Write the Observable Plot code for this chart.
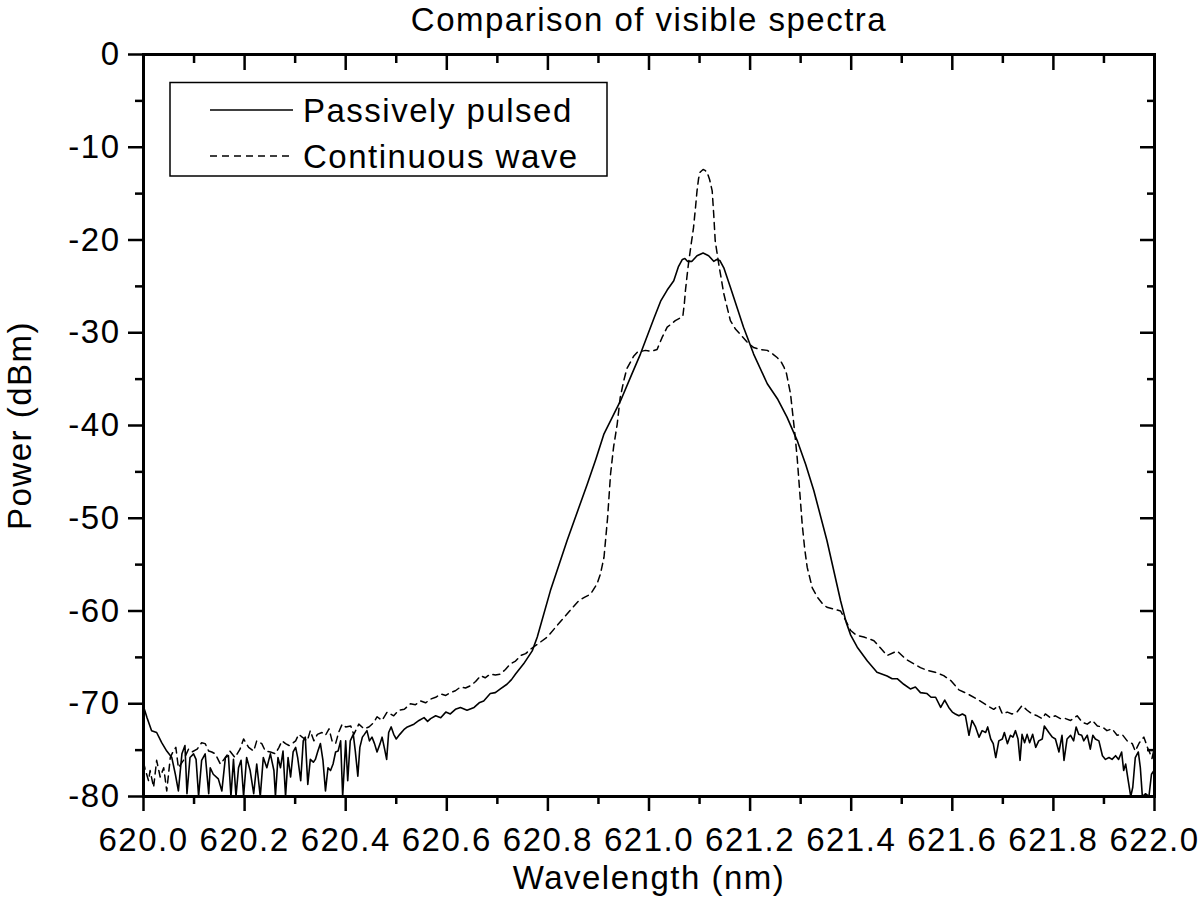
<!DOCTYPE html>
<html><head><meta charset="utf-8">
<script src="https://cdn.jsdelivr.net/npm/d3@7"></script>
<script src="https://cdn.jsdelivr.net/npm/@observablehq/plot@0.6"></script>
<style>
html,body{margin:0;padding:0;background:#fff;overflow:hidden}
#wrap{position:relative;width:1200px;height:921px}
#wrap svg{position:absolute;left:0;top:0}
</style></head><body><div id="wrap"></div>
<script>
// ---------- data ----------
const titleText = "Comparison of visible spectra";
const xLabelText = "Wavelength (nm)";
const yLabelText = "Power (dBm)";
const seriesNames = ["Passively pulsed", "Continuous wave"];

const xMajor = [620.0, 620.2, 620.4, 620.6, 620.8, 621.0, 621.2, 621.4, 621.6, 621.8, 622.0];
const xMinor = [620.1, 620.3, 620.5, 620.7, 620.9, 621.1, 621.3, 621.5, 621.7, 621.9];
const yMajor = [0, -10, -20, -30, -40, -50, -60, -70, -80];
const yMinor = [-5, -15, -25, -35, -45, -55, -65, -75];

const pulsedX = [
620.000,620.007,620.016,620.026,620.036,620.046,620.056,620.063,620.069,620.076,620.082,620.086,620.092,620.099,620.104,620.109,620.115,620.122,620.129,620.132,
620.138,620.148,620.155,620.162,620.168,620.173,620.178,620.183,620.188,620.193,620.198,620.204,620.211,620.218,620.224,620.231,620.237,620.244,620.251,620.258,
620.261,620.266,620.271,620.276,620.281,620.286,620.291,620.296,620.301,620.305,620.311,620.316,620.320,620.325,620.330,620.336,620.340,620.345,620.350,620.355,
620.360,620.365,620.370,620.375,620.380,620.385,620.390,620.394,620.400,620.404,620.409,620.415,620.419,620.424,620.428,620.433,620.437,620.442,620.447,620.452,
620.457,620.462,620.468,620.472,620.477,620.481,620.485,620.490,620.495,620.500,620.507,620.515,620.522,620.535,620.545,620.555,620.562,620.568,620.578,620.588,
620.598,620.607,620.617,620.627,620.640,620.654,620.664,620.673,620.686,620.696,620.706,620.719,620.728,620.736,620.752,620.769,620.779,620.805,620.838,620.878,
620.895,620.911,620.944,620.965,620.983,621.010,621.023,621.036,621.049,621.058,621.066,621.071,621.076,621.085,621.095,621.107,621.118,621.128,621.134,621.140,
621.148,621.161,621.187,621.207,621.234,621.255,621.273,621.293,621.310,621.326,621.352,621.379,621.390,621.399,621.412,621.432,621.451,621.471,621.481,621.491,
621.504,621.517,621.527,621.537,621.550,621.558,621.567,621.577,621.585,621.593,621.600,621.606,621.613,621.620,621.626,621.633,621.639,621.646,621.653,621.659,
621.666,621.670,621.676,621.681,621.686,621.692,621.699,621.703,621.709,621.715,621.720,621.725,621.730,621.734,621.738,621.743,621.748,621.753,621.759,621.765,
621.771,621.778,621.782,621.791,621.798,621.804,621.811,621.817,621.821,621.827,621.834,621.840,621.845,621.850,621.856,621.860,621.867,621.873,621.878,621.883,
621.890,621.897,621.903,621.910,621.916,621.923,621.929,621.935,621.939,621.943,621.948,621.953,621.957,621.962,621.968,621.972,621.976,621.982,621.989,621.994,
621.999
];
const pulsedY = [
-70.3,-71.5,-72.9,-73.1,-74.2,-75.1,-75.8,-77.6,-79.4,-75.4,-74.5,-79.7,-75.8,-75.4,-76.0,-80.0,-76.1,-75.4,-79.7,-76.9,
-77.6,-78.1,-79.4,-75.8,-75.6,-80.0,-76.0,-80.0,-76.9,-76.1,-80.0,-75.8,-77.2,-79.7,-76.5,-80.0,-75.8,-76.9,-75.4,-77.2,
-80.0,-75.8,-76.9,-75.1,-80.0,-75.8,-77.9,-75.2,-74.7,-75.8,-78.3,-74.0,-73.6,-78.7,-76.0,-76.3,-76.0,-75.1,-74.3,-76.1,
-79.4,-76.9,-77.2,-76.5,-75.2,-75.1,-74.0,-80.0,-74.0,-78.3,-74.0,-73.3,-75.1,-77.8,-74.7,-73.6,-73.3,-72.9,-74.0,-73.6,
-74.3,-75.2,-74.3,-73.6,-74.9,-76.0,-73.1,-72.5,-73.3,-73.8,-73.3,-72.8,-72.5,-72.2,-71.8,-71.5,-71.9,-71.6,-71.3,-71.5,
-70.9,-71.1,-70.6,-70.4,-70.7,-70.4,-69.9,-69.7,-68.9,-68.8,-68.4,-67.9,-67.4,-66.8,-65.7,-64.3,-62.8,-57.8,-52.4,-46.3,
-43.6,-40.9,-37.3,-34.6,-32.3,-28.4,-26.6,-25.4,-24.4,-22.9,-22.1,-22.0,-22.3,-22.3,-21.7,-21.4,-21.7,-22.3,-22.1,-22.2,
-23.0,-25.1,-29.4,-32.3,-35.5,-37.2,-39.1,-41.6,-44.2,-47.0,-52.4,-58.9,-61.2,-62.6,-63.9,-65.4,-66.6,-67.0,-67.3,-67.3,
-67.9,-68.4,-68.2,-68.8,-68.9,-69.3,-69.3,-70.4,-69.6,-70.4,-70.9,-71.1,-71.3,-71.1,-71.3,-73.4,-71.8,-72.5,-73.6,-72.9,
-73.1,-72.5,-73.8,-74.3,-75.8,-74.0,-73.8,-73.1,-74.3,-73.4,-73.6,-72.9,-73.8,-76.1,-73.3,-74.2,-73.3,-74.2,-73.3,-74.7,
-74.0,-73.8,-72.4,-73.1,-73.6,-73.8,-75.2,-73.4,-76.1,-73.8,-73.4,-74.0,-72.5,-73.3,-73.4,-74.0,-73.4,-74.9,-73.4,-73.8,
-74.0,-75.6,-76.0,-75.8,-76.0,-75.6,-76.0,-75.2,-77.2,-76.5,-78.3,-80.0,-79.0,-75.8,-75.2,-76.9,-80.0,-79.7,-80.0,-77.6,
-77.2
];

const cwX = [
620.000,620.003,620.010,620.013,620.020,620.026,620.033,620.040,620.046,620.053,620.059,620.064,620.069,620.079,620.089,620.096,620.106,620.115,620.122,620.129,
620.135,620.142,620.152,620.162,620.171,620.181,620.191,620.198,620.208,620.218,620.224,620.234,620.241,620.251,620.261,620.268,620.274,620.281,620.288,620.294,
620.301,620.307,620.314,620.324,620.330,620.337,620.344,620.353,620.360,620.367,620.373,620.380,620.386,620.393,620.400,620.410,620.416,620.426,620.436,620.446,
620.456,620.462,620.472,620.482,620.495,620.505,620.516,620.528,620.538,620.548,620.558,620.568,620.578,620.588,620.598,620.607,620.617,620.627,620.637,620.647,
620.657,620.667,620.676,620.686,620.696,620.706,620.716,620.726,620.736,620.746,620.756,620.766,620.779,620.799,620.816,620.832,620.846,620.861,620.873,620.884,
620.897,620.904,620.911,620.918,620.924,620.930,620.937,620.943,620.950,620.956,620.963,620.970,620.977,620.993,621.005,621.016,621.026,621.036,621.052,621.062,
621.067,621.070,621.072,621.075,621.078,621.083,621.088,621.092,621.095,621.098,621.101,621.107,621.111,621.115,621.120,621.125,621.128,621.131,621.138,621.148,
621.161,621.171,621.181,621.194,621.207,621.220,621.234,621.245,621.254,621.261,621.267,621.272,621.276,621.280,621.283,621.288,621.293,621.298,621.303,621.308,
621.313,621.323,621.333,621.343,621.352,621.366,621.379,621.389,621.399,621.410,621.425,621.445,621.458,621.471,621.491,621.508,621.524,621.537,621.550,621.566,
621.583,621.597,621.613,621.629,621.649,621.669,621.682,621.692,621.699,621.709,621.718,621.728,621.738,621.748,621.758,621.768,621.778,621.784,621.794,621.804,
621.814,621.824,621.834,621.847,621.857,621.867,621.877,621.887,621.897,621.906,621.916,621.926,621.936,621.946,621.956,621.962,621.970,621.979,621.986,621.990,
621.995,622.000
];
const cwY = [
-76.3,-77.0,-78.3,-77.2,-79.0,-76.1,-77.9,-76.9,-79.4,-75.8,-75.1,-74.7,-76.9,-76.1,-74.9,-75.2,-74.9,-74.2,-74.3,-75.1,
-75.2,-75.4,-76.5,-75.8,-75.1,-75.8,-74.9,-73.8,-74.7,-75.1,-74.0,-74.3,-75.1,-75.2,-75.4,-74.7,-74.0,-74.3,-74.5,-74.3,
-74.0,-73.3,-73.6,-74.0,-72.9,-74.0,-73.3,-73.1,-73.4,-72.7,-74.0,-74.3,-73.1,-72.2,-72.5,-72.4,-73.3,-72.2,-72.7,-72.5,
-72.0,-71.4,-71.8,-70.9,-71.3,-70.7,-70.6,-70.0,-70.1,-69.7,-69.9,-69.5,-69.3,-68.95,-69.1,-68.8,-68.6,-68.2,-68.3,-68.05,
-67.6,-66.97,-67.2,-66.8,-66.9,-66.8,-66.3,-65.7,-65.4,-64.8,-64.6,-64.1,-63.6,-62.8,-61.7,-60.7,-59.8,-58.9,-58.5,-58.2,
-57.1,-56.0,-54.2,-50.0,-45.2,-42.3,-39.9,-37.0,-35.2,-33.9,-33.2,-32.5,-32.1,-31.9,-32.0,-31.8,-30.5,-29.4,-28.7,-28.4,
-28.2,-26.8,-25.5,-24.0,-22.6,-20.6,-18.7,-16.5,-14.7,-13.4,-12.7,-12.4,-12.5,-12.7,-13.5,-14.7,-17.2,-20.1,-22.6,-25.8,
-28.7,-29.6,-30.2,-31.0,-31.6,-31.8,-31.9,-32.3,-32.7,-33.1,-33.7,-34.4,-35.5,-36.6,-38.1,-40.6,-43.4,-47.0,-50.6,-53.3,
-55.3,-57.5,-58.5,-59.2,-59.6,-59.8,-60.0,-61.0,-62.1,-62.6,-62.8,-63.2,-64.0,-64.8,-64.3,-65.2,-65.7,-66.1,-66.4,-66.6,
-66.97,-67.5,-68.5,-68.9,-69.5,-70.2,-70.6,-70.2,-71.1,-70.9,-71.1,-70.9,-70.2,-70.7,-71.1,-71.3,-71.6,-71.1,-71.5,-71.3,
-71.6,-71.6,-71.8,-71.3,-72.0,-72.2,-71.8,-72.4,-72.5,-72.9,-72.7,-73.4,-73.3,-74.0,-74.3,-75.1,-74.2,-73.6,-74.7,-75.2,
-75.9,-74.7
];

// ---------- build ----------
const FONT = "'Liberation Sans', Arial, Helvetica, sans-serif";
const pulsed = pulsedX.map((x, i) => ({x, y: pulsedY[i]}));
const cw = cwX.map((x, i) => ({x, y: cwY[i]}));
const AX = {strokeWidth: 2.5, label: null};
const blank = () => "";

const chart = Plot.plot({
  width: 1200, height: 921,
  marginLeft: 143, marginRight: 46, marginTop: 54, marginBottom: 125,
  x: {domain: [620, 622], label: null},
  y: {domain: [-80, 0], label: null},
  style: {fontFamily: FONT, fontSize: "33px", letterSpacing: "1.5px", color: "black", background: "white", overflow: "visible"},
  marks: [
    Plot.line(cw, {x: "x", y: "y", stroke: "black", strokeWidth: 1.5, strokeDasharray: "7,5", clip: true}),
    Plot.line(pulsed, {x: "x", y: "y", stroke: "black", strokeWidth: 1.6, clip: true}),
    Plot.frame({stroke: "black", strokeWidth: 3}),
    Plot.axisX(xMajor, {...AX, anchor: "bottom", tickSize: 15, tickPadding: 16, tickFormat: d => d.toFixed(1)}),
    Plot.axisX(xMinor, {...AX, anchor: "bottom", tickSize: 8, tickFormat: blank}),
    Plot.axisX(xMajor, {...AX, anchor: "top", tickSize: 15, dy: 15, tickFormat: blank}),
    Plot.axisX(xMinor, {...AX, anchor: "top", tickSize: 8, dy: 8, tickFormat: blank}),
    Plot.axisY(yMajor, {...AX, anchor: "left", tickSize: 15, tickPadding: 8, tickFormat: d => String(d)}),
    Plot.axisY(yMinor, {...AX, anchor: "left", tickSize: 8, tickFormat: blank}),
    Plot.axisY(yMajor, {...AX, anchor: "right", tickSize: 15, dx: -15, tickFormat: blank}),
    Plot.axisY(yMinor, {...AX, anchor: "right", tickSize: 8, dx: -8, tickFormat: blank}),
    Plot.text([titleText], {frameAnchor: "top", lineAnchor: "middle", textAnchor: "middle", dy: -34, text: d => d}),
    Plot.text([xLabelText], {frameAnchor: "bottom", lineAnchor: "middle", textAnchor: "middle", dy: 82, text: d => d}),
    Plot.text([yLabelText], {frameAnchor: "left", lineAnchor: "middle", textAnchor: "middle", dx: -123, rotate: -90, text: d => d})
  ]
});
const wrap = document.getElementById("wrap");
wrap.appendChild(chart);

// ---------- legend (inside the plot area, top-left) ----------
const ns = "http://www.w3.org/2000/svg";
const lg = document.createElementNS(ns, "svg");
lg.setAttribute("width", 1200); lg.setAttribute("height", 921);
lg.style.fontFamily = FONT; lg.style.fontSize = "33px"; lg.style.letterSpacing = "1.5px";
function el(tag, attrs, txt) {
  const e = document.createElementNS(ns, tag);
  for (const k in attrs) e.setAttribute(k, attrs[k]);
  if (txt) e.textContent = txt;
  lg.appendChild(e);
  return e;
}
el("rect", {x: 170, y: 82.5, width: 437, height: 93.5, fill: "white", stroke: "black", "stroke-width": 1.5});
const rows = [{y: 110, dash: null}, {y: 156, dash: "7,5"}];
rows.forEach((r, i) => {
  const a = {x1: 210, x2: 293, y1: r.y, y2: r.y, stroke: "black", "stroke-width": 1.5};
  if (r.dash) a["stroke-dasharray"] = r.dash;
  el("line", a);
  el("text", {x: 303, y: r.y + 11.5, fill: "black"}, seriesNames[i]);
});
wrap.appendChild(lg);
</script></body></html>
